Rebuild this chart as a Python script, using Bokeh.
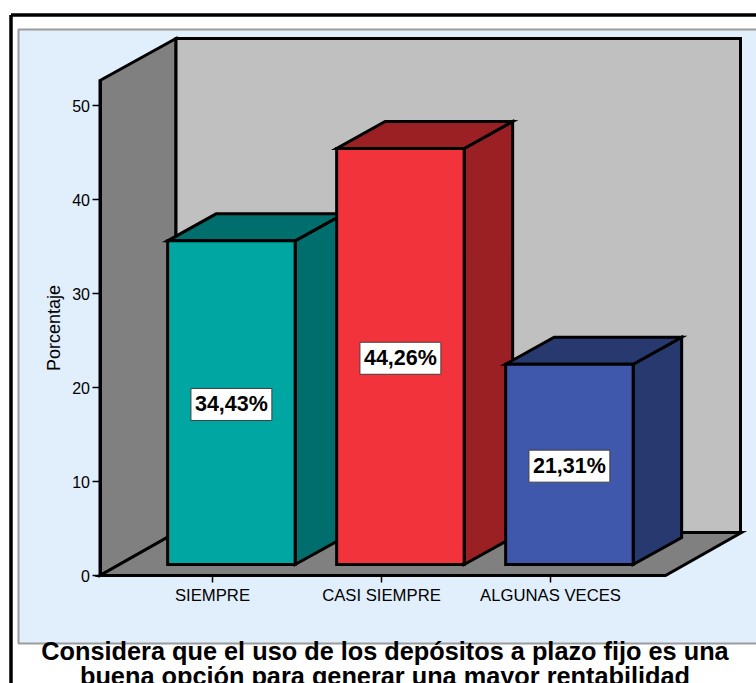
from bokeh.plotting import figure
from bokeh.models import LinearAxis, FixedTicker, Range1d, Label, ColumnDataSource
from bokeh.embed import file_html
from bokeh.resources import INLINE

categories = ["SIEMPRE", "CASI SIEMPRE", "ALGUNAS VECES"]
percentages = [34.43, 44.26, 21.31]
value_labels = ["34,43%", "44,26%", "21,31%"]
y_ticks = [0, 10, 20, 30, 40, 50]
y_label = "Porcentaje"
title_lines = ["Considera que el uso de los depósitos a plazo fijo es una",
               "buena opción para generar una mayor rentabilidad"]

front_colors = ["#00A6A1", "#F3333B", "#3F58AB"]
shade_colors = ["#006E6C", "#9A2023", "#27396F"]

FONT = "Liberation Sans"
W, H = 756, 683
PX_X = 169.0   # px per category
PX_Y = 9.4     # px per percentage point
ORIGIN_X, ORIGIN_Y = 212.0, 575.0  # picture px of category 1 / value 0


def X(px):
    return 1 + (px - ORIGIN_X) / PX_X


def Y(py):
    return (ORIGIN_Y - py) / PX_Y


p = figure(width=W, height=H, output_backend="svg", toolbar_location=None,
           x_range=Range1d(X(0), X(W)), y_range=Range1d(Y(H), Y(0)),
           x_axis_location=None, y_axis_location=None,
           min_border=0, outline_line_color=None,
           background_fill_color="white", border_fill_color="white")
p.grid.visible = False

# chart surroundings
LW = 3
p.quad(left=[X(18)], right=[X(770)], top=[Y(29)], bottom=[Y(643)],
       fill_color="#E1EEFB", line_color="#9C9C9C", line_width=2)
p.line([X(10.5), X(10.5)], [Y(700), Y(14.5)], line_color="black", line_width=3.5)
p.line([X(10.5), X(770)], [Y(14.5), Y(14.5)], line_color="black", line_width=3.5)

# walls and floor
p.patch([X(99.5), X(175.5), X(175.5), X(99.5)], [Y(80), Y(38), Y(532), Y(575)],
        fill_color="#808080", line_color="black", line_width=LW, line_join="miter")
p.patch([X(175.5), X(740), X(740), X(175.5)], [Y(38), Y(38), Y(532), Y(532)],
        fill_color="#C0C0C0", line_color="black", line_width=LW, line_join="miter")
p.patch([X(99.5), X(665), X(741), X(175.5)], [Y(575), Y(575), Y(532), Y(532)],
        fill_color="#808080", line_color="black", line_width=LW, line_join="miter")

# bars (front face, side and top from the values)
BASE = Y(564.0)
OFF = 18.9 / PX_X
BW = 127.5 / PX_X
DX = 48.5 / PX_X
DY = 27.0 / PX_Y
for i, v in enumerate(percentages):
    l = i + 1 + OFF - BW / 2
    r = l + BW
    t = BASE + v
    b = BASE
    side = ColumnDataSource(dict(x=[r, r + DX, r + DX, r], y=[b, b + DY, t + DY, t]))
    top = ColumnDataSource(dict(x=[l, r, r + DX, l + DX], y=[t, t, t + DY, t + DY]))
    front = ColumnDataSource(dict(x=[l, r, r, l], y=[b, b, t, t]))
    for src, col in ((side, shade_colors[i]), (top, shade_colors[i]), (front, front_colors[i])):
        p.patch("x", "y", source=src, fill_color=col, line_color="black",
                line_width=LW, line_join="miter")
    p.add_layout(Label(x=(l + r) / 2, y=BASE + v / 2 - 1.8 / PX_Y, text=value_labels[i],
                       text_align="center", text_baseline="middle",
                       text_font=FONT, text_font_style="bold", text_font_size="21.5px",
                       text_color="black", background_fill_color="white",
                       border_line_color="#404040", border_line_width=1, padding=4))

# axes
yaxis = LinearAxis(ticker=FixedTicker(ticks=y_ticks), fixed_location=X(99.5),
                   bounds=(0, Y(80)), axis_label=y_label,
                   axis_label_text_font=FONT, axis_label_text_font_size="18px",
                   axis_label_text_font_style="normal", axis_label_text_color="black",
                   axis_label_standoff=6,
                   major_label_text_font=FONT, major_label_text_font_size="16px",
                   major_label_text_color="black", major_label_standoff=2,
                   axis_line_color="black", axis_line_width=LW,
                   major_tick_line_color="black", major_tick_line_width=1.5,
                   major_tick_in=0, major_tick_out=8, minor_tick_line_color=None)
p.add_layout(yaxis, "left")

xaxis = LinearAxis(ticker=FixedTicker(ticks=[1, 2, 3]), fixed_location=0,
                   major_label_overrides={i + 1: c for i, c in enumerate(categories)},
                   major_label_text_font=FONT, major_label_text_font_size="16.7px",
                   major_label_text_color="black", major_label_standoff=3,
                   axis_line_color=None,
                   major_tick_line_color="black", major_tick_line_width=1.5,
                   major_tick_in=0, major_tick_out=7, minor_tick_line_color=None)
p.add_layout(xaxis, "below")

# title below the chart
for line, py in zip(title_lines, (650.5, 675.5)):
    p.add_layout(Label(x=X(384.5), y=Y(py), text=line, text_align="center",
                       text_baseline="middle", text_font=FONT, text_font_style="bold",
                       text_font_size="25.3px", text_color="black"))

open("out.html", "w").write(file_html(p, INLINE))
